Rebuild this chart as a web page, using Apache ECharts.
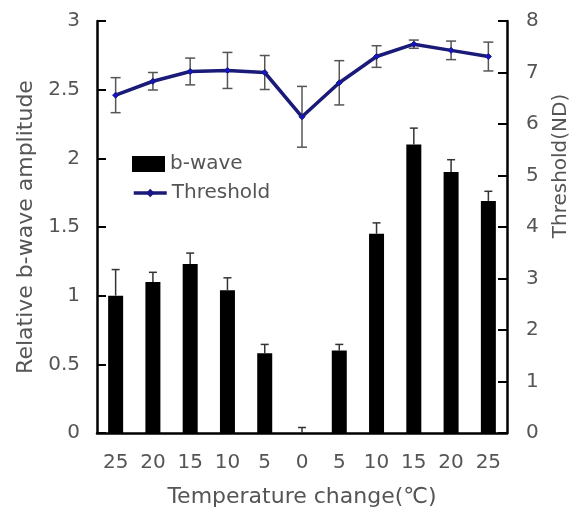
<!DOCTYPE html>
<html>
<head>
<meta charset="utf-8">
<style>
  html, body { margin: 0; padding: 0; background: #fff; }
  #chart { width: 579px; height: 513px; }
</style>
<script src="https://cdn.jsdelivr.net/npm/echarts@6/dist/echarts.min.js"></script>
</head>
<body>
<div id="chart"></div>
<script>
// Temperature steps (cooling on the left, warming back on the right)
const categories = ['25', '20', '15', '10', '5', '0', '5', '10', '15', '20', '25'];
// Relative b-wave amplitude and its SEM
const bwave = [1.00, 1.10, 1.23, 1.04, 0.58, 0.00, 0.60, 1.45, 2.10, 1.90, 1.69];
const bwaveErr = [0.19, 0.07, 0.08, 0.09, 0.065, 0.04, 0.045, 0.08, 0.12, 0.09, 0.07];
// Threshold in ND units and its SEM
const threshold = [6.56, 6.83, 7.02, 7.04, 7.00, 6.14, 6.80, 7.31, 7.55, 7.43, 7.31];
const thresholdErr = [0.34, 0.17, 0.26, 0.35, 0.33, 0.59, 0.43, 0.21, 0.08, 0.18, 0.28];
// Axis ranges
const leftTicks = { min: 0, max: 3, interval: 0.5 };
const rightTicks = { min: 0, max: 8, interval: 1 };

const FONT = '"DejaVu Sans", "Liberation Sans", sans-serif';
const TEXT = '#555';

const bwaveErrData = bwave.map((v, i) => [i, v, v + bwaveErr[i]]);
const thresholdErrData = threshold.map((v, i) => [i, v - thresholdErr[i], v + thresholdErr[i]]);

function errorBars(capHalf, color, both) {
  return function (params, api) {
    const x = api.value(0);
    const lo = api.coord([x, api.value(1)]);
    const hi = api.coord([x, api.value(2)]);
    const style = { stroke: color, lineWidth: 1.5 };
    const children = [
      { type: 'line', shape: { x1: lo[0], y1: lo[1], x2: hi[0], y2: hi[1] }, style },
      { type: 'line', shape: { x1: hi[0] - capHalf, y1: hi[1], x2: hi[0] + capHalf, y2: hi[1] }, style }
    ];
    if (both) {
      children.push({ type: 'line', shape: { x1: lo[0] - capHalf, y1: lo[1], x2: lo[0] + capHalf, y2: lo[1] }, style });
    }
    return { type: 'group', children };
  };
}

const chart = echarts.init(document.getElementById('chart'), null, { renderer: 'canvas' });

chart.setOption({
  animation: false,
  backgroundColor: '#fff',
  textStyle: { fontFamily: FONT },
  grid: { left: 97, right: 72, top: 21, bottom: 77 },
  legend: [
    {
      data: [{ name: 'b-wave', icon: 'rect' }],
      orient: 'vertical',
      left: 127,
      top: 149,
      itemWidth: 33,
      itemHeight: 16,
      itemGap: 5,
      textStyle: { fontSize: 20, color: TEXT, fontFamily: FONT }
    },
    {
      data: [{ name: 'Threshold', lineStyle: { width: 3.5, color: '#1a1a78' } }],
      orient: 'vertical',
      left: 127,
      top: 178,
      itemWidth: 33,
      itemHeight: 7,
      textStyle: { fontSize: 20, color: TEXT, fontFamily: FONT }
    }
  ],
  xAxis: {
    type: 'category',
    data: categories,
    name: 'Temperature change(℃)',
    nameLocation: 'middle',
    nameGap: 53,
    nameTextStyle: { fontSize: 22, color: TEXT, fontFamily: FONT },
    axisLine: { show: true, lineStyle: { color: '#000', width: 2.5 } },
    axisTick: { show: false },
    axisLabel: { fontSize: 20, color: TEXT, margin: 20, interval: 0, fontFamily: FONT },
    splitLine: { show: false }
  },
  yAxis: [
    {
      type: 'value',
      position: 'left',
      min: leftTicks.min,
      max: leftTicks.max,
      interval: leftTicks.interval,
      name: 'Relative b-wave amplitude',
      nameLocation: 'middle',
      nameGap: 58,
      nameTextStyle: { fontSize: 22, color: TEXT, fontFamily: FONT },
      axisLine: { show: true, lineStyle: { color: '#000', width: 2.5 } },
      axisTick: { show: true, inside: true, length: 9, lineStyle: { color: '#000', width: 2 } },
      axisLabel: { fontSize: 20, color: TEXT, margin: 17, fontFamily: FONT },
      splitLine: { show: false }
    },
    {
      type: 'value',
      position: 'right',
      min: rightTicks.min,
      max: rightTicks.max,
      interval: rightTicks.interval,
      axisLine: { show: true, lineStyle: { color: '#000', width: 2.5 } },
      axisTick: { show: true, inside: true, length: 9, lineStyle: { color: '#000', width: 2 } },
      axisLabel: { fontSize: 20, color: TEXT, margin: 19, fontFamily: FONT },
      splitLine: { show: false }
    }
  ],
  graphic: [
    {
      type: 'text',
      x: 561,
      y: 166,
      rotation: Math.PI / 2,
      style: {
        text: 'Threshold(ND)',
        font: '20px ' + FONT,
        fill: TEXT,
        align: 'center',
        verticalAlign: 'middle'
      }
    }
  ],
  series: [
    {
      name: 'b-wave',
      type: 'bar',
      data: bwave,
      barWidth: 15,
      itemStyle: { color: '#000' },
      z: 2
    },
    {
      type: 'custom',
      data: bwaveErrData,
      encode: { x: 0, y: [1, 2] },
      renderItem: errorBars(4, '#333', false),
      z: 3
    },
    {
      type: 'custom',
      yAxisIndex: 1,
      data: thresholdErrData,
      encode: { x: 0, y: [1, 2] },
      renderItem: errorBars(5, '#555', true),
      z: 3
    },
    {
      name: 'Threshold',
      type: 'line',
      yAxisIndex: 1,
      data: threshold,
      symbol: 'diamond',
      symbolSize: 6,
      lineStyle: { color: '#1a1a78', width: 3.5 },
      itemStyle: { color: '#1414c8', borderColor: '#1a1a78', borderWidth: 1 },
      z: 4
    }
  ]
});
</script>
</body>
</html>
